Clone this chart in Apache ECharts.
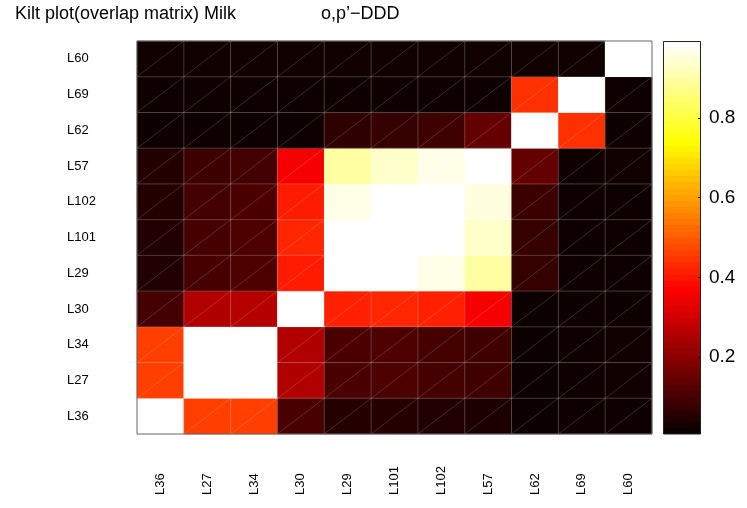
<!DOCTYPE html>
<html>
<head>
<meta charset="utf-8">
<script src="https://cdn.jsdelivr.net/npm/echarts@6/dist/echarts.min.js"></script>
<style>
html,body{margin:0;padding:0;background:#fff;}
#chart{width:747px;height:508px;}
</style>
</head>
<body>
<div id="chart"></div>
<script>
// ---- data ----
const titleText = 'Kilt plot(overlap matrix) Milk                 o,p\u2019\u2212DDD';
const xCategories = ['L36','L27','L34','L30','L29','L101','L102','L57','L62','L69','L60'];
const yCategories = ['L36','L27','L34','L30','L29','L101','L102','L57','L62','L69','L60'];
// rows (bottom to top), columns in xCategories order
const rowL36  = [1.000, 0.458, 0.458, 0.099, 0.044, 0.044, 0.037, 0.032, 0.009, 0.010, 0.012];
const rowL27  = [0.458, 1.000, 1.000, 0.250, 0.102, 0.105, 0.093, 0.083, 0.009, 0.012, 0.014];
const rowL34  = [0.458, 1.000, 1.000, 0.250, 0.102, 0.105, 0.093, 0.083, 0.009, 0.012, 0.014];
const rowL30  = [0.090, 0.250, 0.259, 1.000, 0.414, 0.423, 0.414, 0.355, 0.009, 0.012, 0.012];
const rowL29  = [0.037, 0.095, 0.105, 0.407, 1.000, 1.000, 0.971, 0.902, 0.067, 0.010, 0.012];
const rowL101 = [0.037, 0.095, 0.105, 0.423, 1.000, 1.000, 1.000, 0.941, 0.070, 0.010, 0.012];
const rowL102 = [0.041, 0.090, 0.102, 0.407, 0.971, 1.000, 1.000, 0.964, 0.076, 0.010, 0.012];
const rowL57  = [0.041, 0.080, 0.087, 0.355, 0.902, 0.941, 0.971, 1.000, 0.137, 0.012, 0.014];
const rowL62  = [0.012, 0.012, 0.012, 0.012, 0.060, 0.067, 0.083, 0.137, 1.000, 0.438, 0.012];
const rowL69  = [0.012, 0.012, 0.012, 0.012, 0.012, 0.012, 0.012, 0.012, 0.438, 1.000, 0.012];
const rowL60  = [0.014, 0.014, 0.014, 0.014, 0.014, 0.014, 0.014, 0.014, 0.014, 0.014, 1.000];
const colorMin = 0.006;
const colorMax = 0.994;
const colorbarTicks = [0.2, 0.4, 0.6, 0.8];

// ---- build ----
const rows = [rowL36,rowL27,rowL34,rowL30,rowL29,rowL101,rowL102,rowL57,rowL62,rowL69,rowL60];
const cells = [];
rows.forEach((row, yi) => row.forEach((v, xi) => cells.push([xi, yi, v])));

function clamp(v){ return Math.max(0, Math.min(1, v)); }
function hotColor(k){ // MATLAB hot(64), k = 1..64
  const r = clamp(k/24), g = clamp((k-24)/24), b = clamp((k-48)/16);
  return 'rgb(' + Math.round(r*255) + ',' + Math.round(g*255) + ',' + Math.round(b*255) + ')';
}
const hotColors = [];
for (let k = 1; k <= 64; k++) hotColors.push(hotColor(k));
const gradStops = [];
for (let k = 1; k <= 64; k++) {
  gradStops.push({offset: (k-1)/64, color: hotColors[k-1]});
  gradStops.push({offset: k/64, color: hotColors[k-1]});
}

const FONT = 'Liberation Sans, Arial, Helvetica, sans-serif';
const chart = echarts.init(document.getElementById('chart'), null, {renderer: 'canvas'});
chart.setOption({
  backgroundColor: '#ffffff',
  animation: false,
  title: {
    text: titleText, left: 10, top: 0,
    textStyle: {fontFamily: FONT, fontSize: 18, fontWeight: 'normal', color: '#000'}
  },
  grid: [
    {left: 137, right: 95, top: 41, bottom: 74, show: true, borderColor: '#666', borderWidth: 1, backgroundColor: 'transparent', z: 10},
    {left: 663, right: 46, top: 41, bottom: 74}
  ],
  xAxis: [
    {type: 'category', gridIndex: 0, data: xCategories,
     axisLine: {show: false}, axisTick: {show: false}, splitLine: {show: false},
     axisLabel: {rotate: 90, align: 'left', verticalAlign: 'middle', margin: 61, interval: 0,
       fontFamily: FONT, fontSize: 13, color: '#000'}},
    {type: 'category', gridIndex: 1, data: ['c'], show: false}
  ],
  yAxis: [
    {type: 'category', gridIndex: 0, data: yCategories,
     axisLine: {show: false}, axisTick: {show: false}, splitLine: {show: false},
     axisLabel: {align: 'left', margin: 70, interval: 0, fontFamily: FONT, fontSize: 13, color: '#000'}},
    {type: 'value', gridIndex: 1, position: 'right', min: colorMin, max: colorMax,
     splitLine: {show: false}, axisLine: {show: false},
     axisTick: {show: true, inside: true, length: 3, customValues: colorbarTicks, lineStyle: {color: '#222'}},
     axisLabel: {customValues: colorbarTicks, margin: 8, fontFamily: FONT, fontSize: 19, color: '#000',
       formatter: v => String(Math.round(v*10)/10)}, z: 10}
  ],
  visualMap: {
    type: 'continuous', show: false, seriesIndex: 0, dimension: 2,
    min: colorMin, max: colorMax, inRange: {color: hotColors}
  },
  series: [
    {type: 'heatmap', xAxisIndex: 0, yAxisIndex: 0, data: cells, itemStyle: {borderWidth: 0}},
    {type: 'custom', xAxisIndex: 0, yAxisIndex: 0, data: cells, silent: true, z: 5,
     renderItem: function(params, api){
       const c = api.coord([api.value(0), api.value(1)]);
       const s = api.size([1, 1]);
       const x0 = c[0] - s[0]/2, x1 = c[0] + s[0]/2, y0 = c[1] - s[1]/2, y1 = c[1] + s[1]/2;
       return {type: 'group', children: [
         {type: 'line', shape: {x1: x0, y1: y1, x2: x1, y2: y0}, style: {stroke: 'rgba(255,255,255,0.16)', lineWidth: 1}},
         {type: 'polyline', shape: {points: [[x0, y0], [x1, y0], [x1, y1]]}, style: {stroke: 'rgba(255,255,255,0.22)', lineWidth: 1, fill: null}}
       ]};
     }},
    {type: 'bar', xAxisIndex: 1, yAxisIndex: 1, data: [colorMax], barWidth: '100%', silent: true,
     itemStyle: {color: {type: 'linear', x: 0, y: 1, x2: 0, y2: 0, colorStops: gradStops}, borderColor: '#222', borderWidth: 1}}
  ]
});
</script>
</body>
</html>
